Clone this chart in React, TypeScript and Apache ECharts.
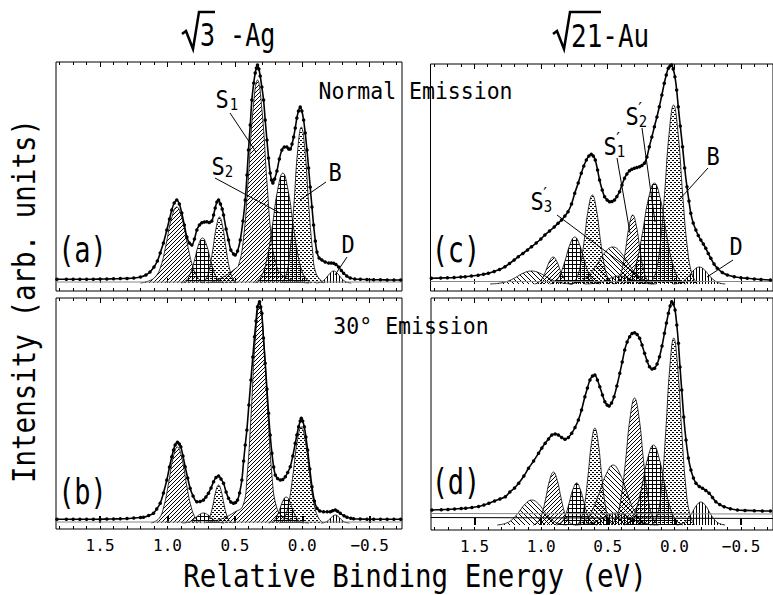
import React, { useEffect, useRef } from 'react';
import * as echarts from 'echarts';

// ---------- axis values ----------
const X_MIN = -0.74;
const X_MAX = 1.827;
const MAJOR_TICKS = [1.5, 1.0, 0.5, 0.0, -0.5];
const MINOR_TICKS = [1.8, 1.7, 1.6, 1.5, 1.4, 1.3, 1.2, 1.1, 1.0, 0.9, 0.8, 0.7, 0.6, 0.5, 0.4, 0.3, 0.2, 0.1, 0, -0.1, -0.2, -0.3, -0.4, -0.5, -0.6, -0.7];

// ---------- panel (a): sqrt3-Ag normal emission ----------
const A_TOTAL = [[1.82,3.7],[1.75,3.7],[1.7,3.7],[1.65,3.7],[1.6,3.8],[1.55,3.8],[1.5,3.9],[1.45,4],[1.4,4.2],[1.35,4.4],[1.3,4.6],[1.25,5],[1.2,6],[1.16,8],[1.13,11],[1.1,16],[1.075,22],[1.054,30],[1.03,40],[1.005,53],[0.985,64],[0.968,73],[0.95,80],[0.931,83],[0.912,79],[0.894,70],[0.875,58],[0.856,46],[0.838,40],[0.819,38],[0.8,44],[0.782,53],[0.763,58],[0.745,60.3],[0.726,61],[0.708,61.3],[0.69,60.5],[0.671,62],[0.658,68],[0.646,75],[0.633,81],[0.621,83],[0.607,79],[0.594,74],[0.584,68],[0.565,54],[0.547,43],[0.53,33],[0.51,29],[0.498,28],[0.48,32],[0.46,43],[0.44,62],[0.423,83],[0.41,108],[0.399,133],[0.386,158],[0.374,183],[0.36,200],[0.349,210],[0.34,215],[0.332,218],[0.322,214],[0.312,207],[0.3,196],[0.287,183],[0.275,163],[0.262,143],[0.25,125],[0.238,110],[0.228,103],[0.218,100],[0.205,104],[0.188,112],[0.17,124],[0.151,133],[0.133,136],[0.114,136],[0.1,134],[0.089,134],[0.076,139],[0.064,146],[0.052,155],[0.04,165],[0.028,172],[0.015,176],[0.003,172],[-0.01,163],[-0.022,150],[-0.035,133],[-0.047,115],[-0.059,96],[-0.072,76],[-0.084,58],[-0.097,42],[-0.109,31],[-0.125,25],[-0.146,23],[-0.17,21],[-0.196,20],[-0.215,20],[-0.233,19.7],[-0.25,18.5],[-0.27,16],[-0.29,12.5],[-0.307,9.7],[-0.33,7],[-0.356,5],[-0.39,4],[-0.431,3.7],[-0.48,3.5],[-0.53,3.3],[-0.58,3.2],[-0.63,3.1],[-0.68,3],[-0.73,3]];
const A_P1 = [[1.2,0],[1.139,2],[1.091,6],[1.051,16],[1.011,38],[0.971,64],[0.931,76],[0.891,64],[0.851,38],[0.811,16],[0.771,4.6],[0.723,0]];
const A_P2 = [[0.896,0],[0.86,2.7],[0.83,9.5],[0.8,22.5],[0.77,38],[0.74,45],[0.71,38],[0.68,22.5],[0.65,9.5],[0.62,2.7],[0.584,0]];
const A_P3 = [[0.744,0],[0.714,4],[0.689,14],[0.664,33],[0.639,55],[0.614,66],[0.589,55],[0.564,33],[0.539,14],[0.514,4],[0.484,0]];
const A_S1 = [[0.7,0],[0.6,5],[0.5,14],[0.472,18],[0.437,43],[0.402,101],[0.367,170],[0.332,203],[0.297,170],[0.262,101],[0.227,43],[0.192,18],[0.15,8],[0.05,2],[-0.05,0]];
const A_S2 = [[0.352,0],[0.304,6.6],[0.264,23],[0.224,55],[0.184,92],[0.144,110],[0.104,92],[0.064,55],[0.024,23],[-0.016,6.6],[-0.064,0]];
const A_B = [[0.15,0],[0.117,9.4],[0.09,33],[0.062,78],[0.035,131],[0.007,156],[-0.021,131],[-0.048,78],[-0.076,33],[-0.103,9.4],[-0.16,0]];
const A_D = [[-0.103,0],[-0.133,0.7],[-0.158,2.5],[-0.183,6],[-0.208,10],[-0.233,12],[-0.258,10],[-0.283,6],[-0.308,2.5],[-0.333,0.7],[-0.363,0]];
const A_BG = [[1.827,1],[-0.74,1]];

// ---------- panel (b): sqrt3-Ag 30 deg ----------
const B_TOTAL = [[1.82,3.7],[1.75,3.7],[1.7,3.7],[1.65,3.7],[1.6,3.7],[1.55,3.8],[1.5,3.8],[1.45,3.9],[1.4,4],[1.35,4.2],[1.3,4.5],[1.25,5],[1.2,5.5],[1.178,5.7],[1.14,7.5],[1.104,9.7],[1.08,14],[1.054,19.7],[1.03,30],[1.005,43],[0.985,56],[0.968,66.3],[0.955,73],[0.943,78],[0.926,80.7],[0.912,79],[0.901,76.3],[0.885,67],[0.869,56.3],[0.85,45],[0.832,34.7],[0.81,27],[0.782,21.3],[0.758,21.5],[0.733,23],[0.715,26],[0.696,29.7],[0.677,35],[0.658,41.3],[0.64,45.5],[0.621,47],[0.603,44],[0.584,39.7],[0.565,31],[0.547,24.7],[0.53,21],[0.51,19.7],[0.495,20.5],[0.48,23],[0.465,30],[0.448,43],[0.435,62],[0.423,78],[0.411,93],[0.396,118],[0.381,143],[0.367,166],[0.354,186.3],[0.343,202],[0.332,216.3],[0.317,221.3],[0.308,216],[0.3,209.7],[0.288,185],[0.275,159.7],[0.262,134],[0.25,109.7],[0.238,88],[0.225,69.7],[0.212,56],[0.2,48],[0.183,44.5],[0.163,43],[0.145,43.5],[0.126,46.3],[0.108,50.5],[0.089,56.3],[0.07,67],[0.052,79.7],[0.04,88],[0.027,96.3],[0.015,102],[0.007,104.7],[-0.003,102],[-0.015,96.3],[-0.027,86],[-0.04,73],[-0.056,54],[-0.072,36.3],[-0.09,22],[-0.109,14.7],[-0.13,12],[-0.158,11.3],[-0.185,11.3],[-0.208,11.3],[-0.225,12.2],[-0.245,13],[-0.262,11.8],[-0.282,9.7],[-0.31,7.2],[-0.332,5.7],[-0.36,4.8],[-0.381,4.3],[-0.43,4],[-0.48,3.8],[-0.53,3.7],[-0.58,3.7],[-0.63,3.7],[-0.68,3.7],[-0.73,3.7]];
const B_P1 = [[1.12,0],[1.062,4.6],[1.028,16],[0.994,38],[0.96,64],[0.926,76],[0.892,64],[0.858,38],[0.824,16],[0.79,4.6],[0.75,0]];
const B_P2 = [[0.89,0],[0.853,0.6],[0.823,2.1],[0.793,5],[0.763,8.4],[0.733,10],[0.703,8.4],[0.673,5],[0.643,2.1],[0.613,0.6],[0.58,0]];
const B_P3 = [[0.725,0],[0.701,2.3],[0.681,8],[0.661,19],[0.641,32],[0.621,38],[0.601,32],[0.581,19],[0.561,8],[0.541,2.3],[0.517,0]];
const B_S1 = [[0.7,1],[0.6,4],[0.5,11],[0.441,17],[0.41,46],[0.379,110],[0.348,185],[0.317,220],[0.286,185],[0.255,110],[0.224,46],[0.193,17],[0.15,7],[0.05,2],[-0.05,0]];
const B_S2 = [[0.25,0],[0.219,1.6],[0.194,5.5],[0.169,13],[0.144,22],[0.119,26],[0.094,22],[0.069,13],[0.044,5.5],[0.019,1.6],[-0.011,0]];
const B_B = [[0.17,0],[0.131,5.8],[0.1,20],[0.069,48],[0.038,81],[0.007,96],[-0.024,81],[-0.055,48],[-0.086,20],[-0.117,5.8],[-0.155,0]];
const B_D = [[-0.14,0],[-0.165,0.5],[-0.185,1.7],[-0.205,4],[-0.225,6.7],[-0.245,8],[-0.265,6.7],[-0.285,4],[-0.305,1.7],[-0.325,0.5],[-0.35,0]];
const B_BG = [[1.827,1],[-0.74,1]];

// ---------- panel (c): sqrt21-Au normal emission ----------
const C_TOTAL = [[1.82,5.7],[1.75,6],[1.7,6.2],[1.65,6.5],[1.6,7],[1.567,7.3],[1.52,8],[1.47,8.8],[1.43,9.7],[1.393,10.7],[1.35,12.5],[1.31,14.5],[1.269,17.3],[1.235,20.5],[1.2,24],[1.169,27.3],[1.135,30.5],[1.1,34],[1.07,37.3],[1.035,41],[1,45],[0.97,49],[0.935,53],[0.9,57],[0.871,60.7],[0.845,64],[0.82,68],[0.796,72.3],[0.77,80],[0.746,90.7],[0.72,101],[0.697,110.7],[0.678,118],[0.659,124],[0.64,128],[0.622,129.7],[0.607,128],[0.592,124],[0.575,114],[0.56,104],[0.54,94],[0.522,87.3],[0.503,84],[0.485,82.3],[0.467,82.5],[0.448,84],[0.43,87.5],[0.41,92.3],[0.392,99],[0.373,105.7],[0.355,110],[0.336,113.3],[0.318,114.8],[0.299,115.7],[0.28,116.5],[0.261,117.3],[0.243,118.5],[0.224,120.7],[0.205,127],[0.187,137.3],[0.168,147],[0.149,157.3],[0.13,167],[0.112,177.3],[0.093,189],[0.075,200.7],[0.06,209],[0.045,215.7],[0.032,218],[0.02,219],[0.008,215],[-0.005,207.3],[-0.018,194],[-0.03,177.3],[-0.045,158],[-0.062,137.3],[-0.078,116],[-0.095,97.3],[-0.11,83],[-0.124,70.7],[-0.142,61],[-0.162,54],[-0.18,48.5],[-0.199,44],[-0.218,40],[-0.236,35.7],[-0.255,30.5],[-0.274,25.7],[-0.298,20],[-0.323,15.7],[-0.36,11.5],[-0.398,9],[-0.45,7.3],[-0.5,6.3],[-0.547,5.7],[-0.6,5],[-0.65,4.5],[-0.721,4]];
const C_P1 = [[1.38,0],[1.31,0.8],[1.25,2.7],[1.19,6.5],[1.13,11],[1.07,13],[1.01,11],[0.95,6.5],[0.89,2.7],[0.83,0.8],[0.76,0]];
const C_P2 = [[1.048,0],[1.016,1.6],[0.989,5.7],[0.962,13.5],[0.935,22.7],[0.908,27],[0.881,22.7],[0.854,13.5],[0.827,5.7],[0.8,1.6],[0.768,0]];
const C_P3 = [[0.933,0],[0.89,2.8],[0.854,10],[0.818,23.5],[0.782,39.5],[0.746,47],[0.71,39.5],[0.674,23.5],[0.638,10],[0.602,2.8],[0.559,0]];
const C_P4 = [[0.77,0],[0.734,5.3],[0.704,18.7],[0.674,44.5],[0.644,75],[0.614,89],[0.584,75],[0.554,44.5],[0.524,18.7],[0.494,5.3],[0.458,0]];
const C_S3 = [[0.785,0],[0.71,2.2],[0.648,7.8],[0.585,18.5],[0.523,31],[0.46,37],[0.398,31],[0.335,18.5],[0.273,7.8],[0.21,2.2],[0.135,0]];
const C_V = [[0.67,0],[0.61,0.5],[0.56,1.7],[0.51,4],[0.46,6.7],[0.41,8],[0.36,6.7],[0.31,4],[0.26,1.7],[0.21,0.5],[0.15,0]];
const C_S1 = [[0.451,0],[0.419,4],[0.392,14.5],[0.365,34.5],[0.338,58],[0.311,69],[0.284,58],[0.257,34.5],[0.23,14.5],[0.203,4],[0.171,0]];
const C_S2 = [[0.383,0],[0.329,6],[0.284,21],[0.239,50.5],[0.194,85],[0.149,101],[0.104,85],[0.059,50.5],[0.014,21],[-0.031,6],[-0.085,0]];
const C_B = [[0.182,0],[0.141,10.7],[0.107,37.6],[0.073,89.5],[0.039,150],[0.005,179],[-0.029,150],[-0.063,89.5],[-0.097,37.6],[-0.131,10.7],[-0.172,0]];
const C_D = [[0.008,0],[-0.037,1],[-0.074,3.6],[-0.112,8.5],[-0.15,14.3],[-0.187,17],[-0.225,14.3],[-0.262,8.5],[-0.3,3.6],[-0.337,1],[-0.382,0]];
const C_BG = [[1.827,2.5],[-0.74,2.5]];

// ---------- panel (d): sqrt21-Au 30 deg ----------
const D_TOTAL = [[1.82,15],[1.75,15.3],[1.7,15.6],[1.65,16],[1.6,16.4],[1.567,16.7],[1.52,17.5],[1.47,18.5],[1.43,20],[1.393,21.7],[1.35,24],[1.31,26],[1.269,28.3],[1.235,33],[1.2,37],[1.169,41.7],[1.13,49],[1.095,56.7],[1.057,64],[1.02,71.7],[0.995,77],[0.97,81.7],[0.945,86],[0.92,90],[0.895,91],[0.871,90],[0.846,87.5],[0.821,85.7],[0.796,87.5],[0.771,91.7],[0.746,97.5],[0.721,105],[0.697,115],[0.672,128.3],[0.653,137],[0.634,145],[0.615,149],[0.597,150],[0.578,145],[0.56,138.3],[0.54,130],[0.522,123.3],[0.505,120],[0.49,119],[0.472,122],[0.453,128.3],[0.432,139],[0.41,151.7],[0.392,163],[0.373,175],[0.355,183],[0.336,188.3],[0.318,191.5],[0.299,192.3],[0.28,190.5],[0.261,186.7],[0.243,180],[0.224,171.7],[0.205,164],[0.187,158.3],[0.168,156],[0.149,156.7],[0.13,161],[0.112,168.3],[0.093,179],[0.075,191.7],[0.06,202],[0.045,211.7],[0.032,219],[0.02,223.3],[0.008,221],[-0.005,215],[-0.018,200],[-0.03,181.7],[-0.042,158],[-0.055,135],[-0.07,108],[-0.087,85],[-0.105,67],[-0.124,55],[-0.143,47],[-0.162,41.7],[-0.187,38.5],[-0.211,36.7],[-0.236,34.5],[-0.261,31.7],[-0.286,27.5],[-0.311,23.3],[-0.34,20.5],[-0.373,18.3],[-0.42,16.3],[-0.473,15],[-0.53,14.6],[-0.6,14.3],[-0.66,14.1],[-0.721,14]];
const D_P1 = [[1.33,0],[1.27,1.5],[1.22,5.2],[1.17,12.5],[1.12,21],[1.07,25],[1.02,21],[0.97,12.5],[0.92,5.2],[0.87,1.5],[0.81,0]];
const D_P2 = [[1.059,0],[1.024,3.2],[0.995,11],[0.966,26.5],[0.937,44.5],[0.908,53],[0.879,44.5],[0.85,26.5],[0.821,11],[0.792,3.2],[0.757,0]];
const D_P3 = [[0.885,0],[0.85,2.5],[0.821,8.8],[0.792,21],[0.763,35],[0.734,42],[0.705,35],[0.676,21],[0.647,8.8],[0.618,2.5],[0.583,0]];
const D_P4 = [[0.732,0],[0.701,5.8],[0.675,20],[0.649,48.5],[0.623,81.5],[0.597,97],[0.571,81.5],[0.545,48.5],[0.519,20],[0.493,5.8],[0.462,0]];
const D_S3 = [[0.746,0],[0.68,3.6],[0.625,12.6],[0.57,30],[0.515,50],[0.46,60],[0.405,50],[0.35,30],[0.295,12.6],[0.24,3.6],[0.174,0]];
const D_V = [[0.75,0],[0.675,0.7],[0.615,2.5],[0.555,6],[0.495,10],[0.435,12],[0.375,10],[0.315,6],[0.255,2.5],[0.195,0.7],[0.12,0]];
const D_S1 = [[0.476,0],[0.435,7.6],[0.401,26.7],[0.367,63.5],[0.333,107],[0.299,127],[0.265,107],[0.231,63.5],[0.197,26.7],[0.163,7.6],[0.122,0]];
const D_S2 = [[0.378,0],[0.327,4.8],[0.285,16.8],[0.242,40],[0.2,67],[0.157,80],[0.115,67],[0.072,40],[0.03,16.8],[-0.013,4.8],[-0.064,0]];
const D_B = [[0.161,0],[0.125,11],[0.095,39],[0.065,93.5],[0.035,157],[0.005,187],[-0.025,157],[-0.055,93.5],[-0.085,39],[-0.115,11],[-0.151,0]];
const D_D = [[-0.017,0],[-0.059,1.4],[-0.094,4.8],[-0.129,11.5],[-0.164,19.3],[-0.199,23],[-0.234,19.3],[-0.269,11.5],[-0.304,4.8],[-0.339,1.4],[-0.381,0]];
const D_BG1 = [[1.827,11.5],[-0.74,11]];
const D_BG2 = [[1.827,7.5],[-0.74,6.5]];

// ---------- layout ----------
const PANELS = [
  { grid: { left: 56, top: 62, width: 346, height: 229 }, yMin: -8, yMax: 221, bottom: false,
    total: A_TOTAL, bg: [A_BG],
    comps: [[A_P1, 'hatch'], [A_P2, 'grid'], [A_P3, 'dots'], [A_S1, 'hatch'], [A_S2, 'grid'], [A_B, 'dots'], [A_D, 'vlines']] },
  { grid: { left: 56, top: 298, width: 346, height: 231 }, yMin: -6, yMax: 225, bottom: true,
    total: B_TOTAL, bg: [B_BG],
    comps: [[B_P1, 'hatch'], [B_P2, 'grid'], [B_P3, 'dots'], [B_S1, 'hatch'], [B_S2, 'grid'], [B_B, 'dots'], [B_D, 'vlines']] },
  { grid: { left: 430.5, top: 64, width: 346, height: 227 }, yMin: -7, yMax: 220, bottom: false,
    total: C_TOTAL, bg: [C_BG],
    comps: [[C_P1, 'hatch2'], [C_P2, 'hatch'], [C_P3, 'grid'], [C_P4, 'dots'], [C_S3, 'hatch2'], [C_V, 'vlines'], [C_S1, 'hatch'], [C_S2, 'grid'], [C_B, 'dots'], [C_D, 'vlines']] },
  { grid: { left: 431, top: 298, width: 346, height: 232 }, yMin: -5, yMax: 227, bottom: true,
    total: D_TOTAL, bg: [D_BG1, D_BG2],
    comps: [[D_P1, 'hatch2'], [D_P2, 'hatch'], [D_P3, 'grid'], [D_P4, 'dots'], [D_S3, 'hatch2'], [D_V, 'vlines'], [D_S1, 'hatch'], [D_S2, 'grid'], [D_B, 'dots'], [D_D, 'vlines']] },
];

const FONT = '"DejaVu Sans Mono", "Liberation Mono", monospace';

function makePattern(kind: string) {
  const c = document.createElement('canvas');
  let w = 4, h = 4;
  if (kind === 'vlines') { w = 3; h = 3; }
  if (kind === 'hatch2') { w = 5; h = 5; }
  c.width = w; c.height = h;
  const ctx = c.getContext('2d') as CanvasRenderingContext2D;
  ctx.clearRect(0, 0, w, h);
  ctx.fillStyle = '#000';
  const px = (x: number, y: number) => ctx.fillRect(x, y, 1, 1);
  if (kind === 'hatch') { for (let i = 0; i < 4; i++) px(3 - i, i); }
  else if (kind === 'hatch2') { for (let i = 0; i < 5; i++) px(i, i); }
  else if (kind === 'grid') { for (let i = 0; i < 4; i++) { px(i, 0); px(0, i); } }
  else if (kind === 'dots') { px(0, 0); px(1, 0); px(2, 2); px(3, 2); }
  else if (kind === 'vlines') { for (let i = 0; i < 3; i++) px(0, i); }
  return { image: c.toDataURL(), repeat: 'repeat', imageWidth: w, imageHeight: h };
}

const fmtTick = (v: number) => (Math.abs(v) < 1e-9 ? '0.0' : v < 0 ? '\u2212' + Math.abs(v).toFixed(1) : v.toFixed(1));

function buildOption() {
  const pats: Record<string, any> = {};
  ['hatch', 'hatch2', 'grid', 'dots', 'vlines'].forEach((k) => (pats[k] = makePattern(k)));

  const grid: any[] = [];
  const xAxis: any[] = [];
  const yAxis: any[] = [];
  const series: any[] = [];

  PANELS.forEach((p, i) => {
    grid.push({ ...p.grid, show: true, borderColor: '#000', borderWidth: 1, backgroundColor: 'transparent', containLabel: false });
    const base = { type: 'value', gridIndex: i, min: X_MIN, max: X_MAX, inverse: true, splitLine: { show: false } };
    xAxis.push({
      ...base, position: 'bottom',
      axisLine: { show: false },
      axisTick: { show: true, inside: true, customValues: MAJOR_TICKS, length: p.bottom ? 7 : 5, lineStyle: { color: '#000', width: p.bottom ? 2 : 1 } },
      axisLabel: { show: p.bottom, customValues: MAJOR_TICKS, formatter: fmtTick, color: '#000', fontFamily: FONT, fontSize: 16, margin: 8 },
    });
    xAxis.push({
      ...base, position: 'bottom',
      axisLine: { show: false },
      axisTick: { show: true, inside: true, customValues: MINOR_TICKS, length: 3, lineStyle: { color: '#000', width: 1 } },
      axisLabel: { show: false },
    });
    xAxis.push({
      ...base, position: 'top',
      axisLine: { show: false },
      axisTick: { show: true, inside: true, customValues: MAJOR_TICKS, length: 5, lineStyle: { color: '#000', width: 1 } },
      axisLabel: { show: false },
    });
    xAxis.push({
      ...base, position: 'top',
      axisLine: { show: false },
      axisTick: { show: true, inside: true, customValues: MINOR_TICKS, length: 3, lineStyle: { color: '#000', width: 1 } },
      axisLabel: { show: false },
    });
    yAxis.push({ type: 'value', gridIndex: i, min: p.yMin, max: p.yMax, show: false, splitLine: { show: false } });

    p.comps.forEach(([data, kind]: any) => {
      series.push({
        type: 'line', xAxisIndex: i * 4, yAxisIndex: i, data, smooth: 0.45, symbol: 'none', silent: true,
        lineStyle: { color: '#000', width: 0.8 },
        areaStyle: { color: pats[kind], opacity: 1 },
        z: 2,
      });
    });
    p.bg.forEach((data: any, k: number) => {
      series.push({
        type: 'line', xAxisIndex: i * 4, yAxisIndex: i, data, symbol: 'none', silent: true,
        lineStyle: { color: k === 0 ? '#888' : '#000', width: 1 }, z: 3,
      });
    });
    series.push({
      type: 'line', xAxisIndex: i * 4, yAxisIndex: i, data: p.total, smooth: 0.35,
      symbol: 'circle', symbolSize: 3.5, showSymbol: true, showAllSymbol: true, silent: true,
      itemStyle: { color: '#000' }, lineStyle: { color: '#000', width: 1.6 }, z: 5,
    });
  });

  const txt = (text: string, x: number, y: number, fontSize: number, scaleY = 1.15, extra: any = {}) => ({
    type: 'text', x, y, scaleY, z: 20,
    style: { text, fontSize, fontFamily: FONT, fill: '#000', align: 'center', verticalAlign: 'middle', ...extra },
  });
  const ln = (x1: number, y1: number, x2: number, y2: number, w = 1) => ({
    type: 'line', z: 20, shape: { x1, y1, x2, y2 }, style: { stroke: '#000', lineWidth: w },
  });

  const graphic: any[] = [
    // axis titles
    txt('Relative Binding Energy (eV)', 415, 576, 27.5, 1.15),
    { type: 'text', x: 24, y: 301, rotation: Math.PI / 2, scaleY: 1.15, z: 20,
      style: { text: 'Intensity (arb. units)', fontSize: 27.5, fontFamily: FONT, fill: '#000', align: 'center', verticalAlign: 'middle' } },
    // column titles
    { type: 'polyline', z: 20, shape: { points: [[182, 34], [186, 31], [193, 49], [199, 12], [215, 12]] }, style: { stroke: '#000', lineWidth: 2.5, fill: null } },
    txt('3 -Ag', 200, 36, 25, 1.25, { align: 'left' }),
    { type: 'polyline', z: 20, shape: { points: [[553, 34], [557, 31], [564, 49], [570, 12], [601, 12]] }, style: { stroke: '#000', lineWidth: 2.5, fill: null } },
    txt('21-Au', 571, 36, 26, 1.2, { align: 'left' }),
    // emission labels
    txt('Normal Emission', 415.5, 91, 21.5, 1.1),
    txt('30\u00b0 Emission', 411, 326, 21.5, 1.1),
    // panel letters
    txt('(a)', 82.5, 250, 27, 1.3),
    txt('(b)', 82.5, 492, 27, 1.3),
    txt('(c)', 456, 250, 27, 1.3),
    txt('(d)', 456, 482, 27, 1.3),
    // panel (a) annotations
    txt('S', 222, 99, 22), txt('1', 234, 105, 14),
    ln(230, 113, 256, 152),
    txt('S', 218, 166, 22), txt('2', 229, 172, 14),
    ln(215, 178, 280, 213),
    txt('B', 335, 172, 22),
    ln(326, 182, 300, 200),
    txt('D', 348, 244, 22),
    ln(347, 257, 335, 275),
    // panel (c) annotations
    txt('S', 632, 116, 22), txt('\u2032', 640, 109, 16), txt('2', 643, 122, 14),
    ln(642, 128, 655, 222),
    txt('S', 610, 146, 22), txt('\u2032', 618, 139, 16), txt('1', 621, 152, 14),
    ln(617, 158, 630, 233),
    txt('S', 537, 201, 22), txt('\u2032', 545, 194, 16), txt('3', 548, 207, 14),
    ln(557, 215, 648, 283),
    txt('B', 713, 156, 22),
    ln(708, 168, 679, 200),
    txt('D', 736, 246, 22),
    ln(733, 260, 707, 277),
  ];

  return { animation: false, backgroundColor: '#fff', grid, xAxis, yAxis, series, graphic };
}

export default function App() {
  const ref = useRef<HTMLDivElement>(null);
  useEffect(() => {
    const chart = echarts.init(ref.current as HTMLDivElement, null, { renderer: 'svg' });
    chart.setOption(buildOption() as any);
    return () => chart.dispose();
  }, []);
  return <div ref={ref} style={{ position: 'fixed', left: 0, top: 0, width: 773, height: 595, background: '#fff' }} />;
}
